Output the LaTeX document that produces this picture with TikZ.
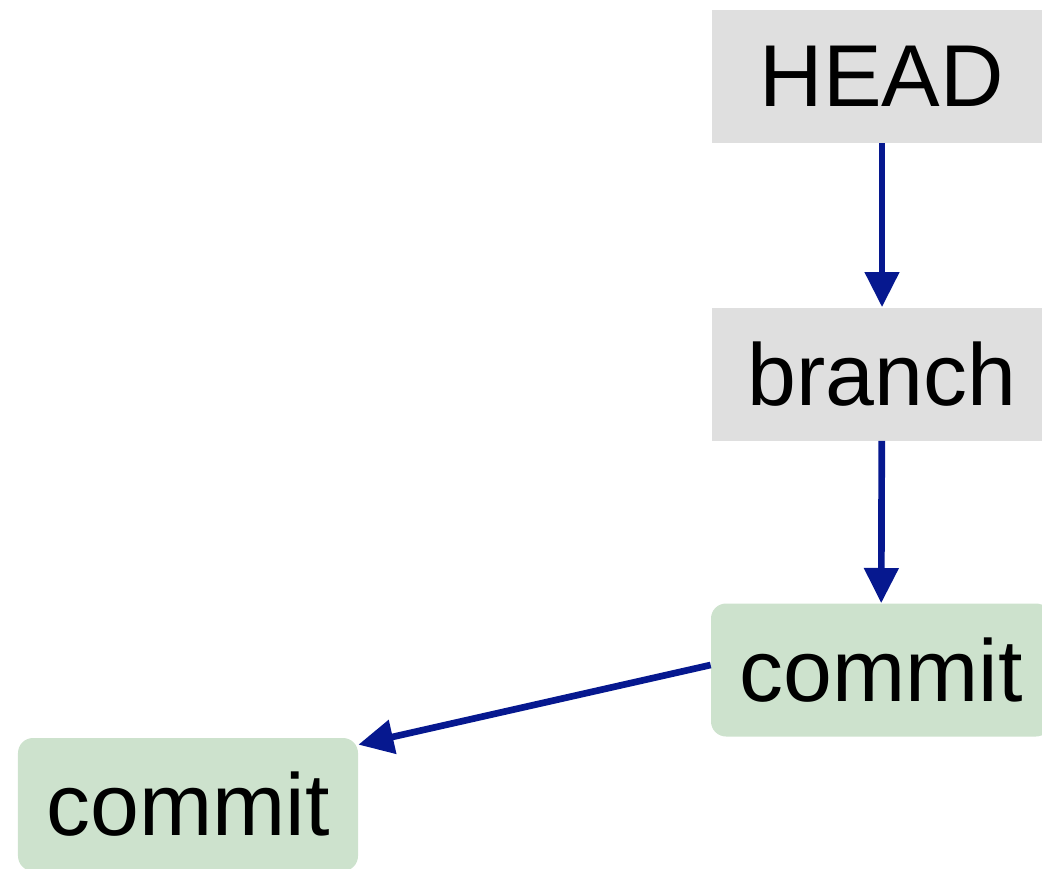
\documentclass[tikz,border=0pt]{standalone}
\usepackage{fontspec}
\setmainfont{Liberation Sans}
\usetikzlibrary{arrows.meta,positioning}
\definecolor{refgray}{HTML}{DFDFDF}
\definecolor{commitgreen}{HTML}{CDE2CD}
\definecolor{arrowblue}{HTML}{06188F}
\tikzset{
  refbox/.style={fill=refgray, minimum width=6.8cm, minimum height=2.66cm, inner sep=0pt},
  commitbox/.style={fill=commitgreen, rounded corners=0.3cm, minimum width=6.8cm, minimum height=2.66cm, inner sep=0pt},
  pointer/.style={draw=arrowblue, line width=3.8pt, -{Triangle[length=20pt,width=19pt]}}
}

\begin{document}
\begin{tikzpicture}[font=\fontsize{50}{56}\selectfont]
      \clip (0,0) rectangle (20.84,-17.38);
      \node[refbox] (head) at (17.64,-1.53) {HEAD};
      \node[refbox] (branch) at (17.64,-7.48) {branch};
      \node[commitbox] (newc) at (17.62,-13.4) {commit};
      \node[commitbox] (oldc) at (3.76,-16.09) {commit};
      \draw[pointer] (head) -- (branch);
      \draw[pointer] (branch) -- (newc);
      \draw[pointer] ([yshift=0.1cm]newc.west) -- ([yshift=-0.14cm]oldc.north east);
    \end{tikzpicture}
\end{document}
